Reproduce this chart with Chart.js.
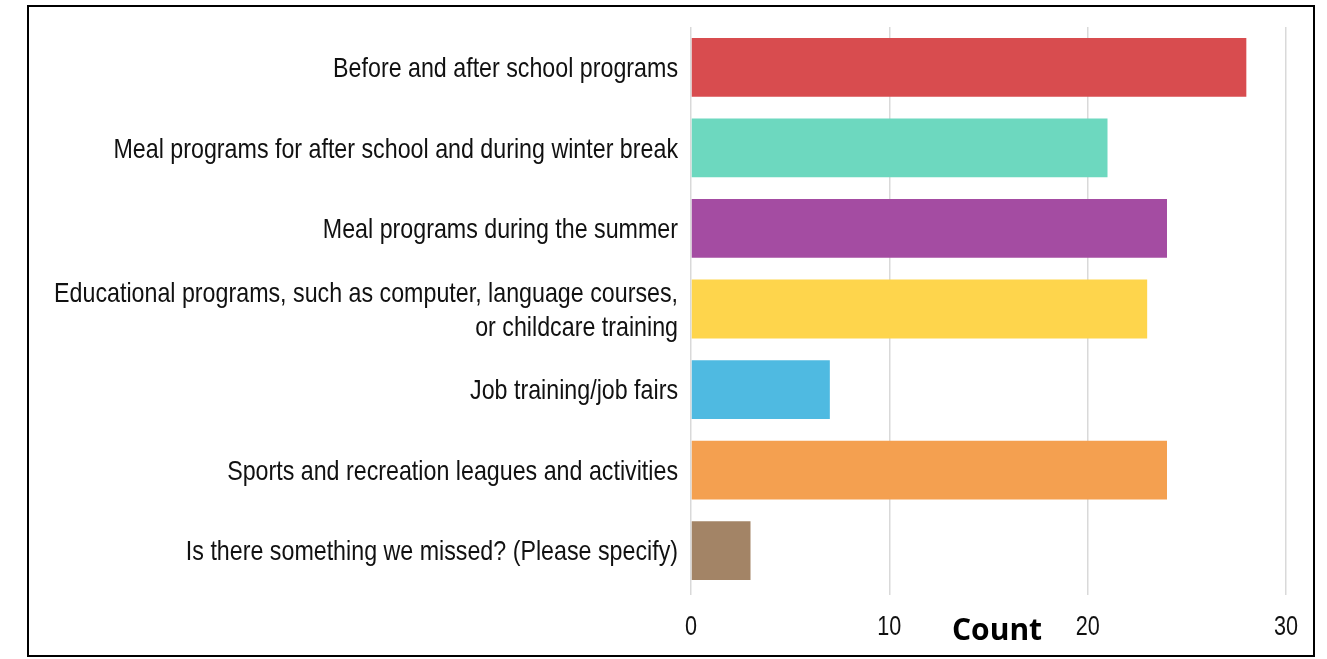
<!DOCTYPE html>
<html lang="en">
<head>
    <meta charset="UTF-8">
    <title>Programs</title>
    <script src="https://cdn.jsdelivr.net/npm/chart.js"></script>
    <style>
        body {
            margin: 0;
            background: #ffffff;
        }

        .frame {
            position: absolute;
            left: 27px;
            top: 5px;
            width: 1284px;
            height: 648px;
            border: 2px solid #000;
        }

        .chart-box {
            position: absolute;
            left: 0;
            top: 0;
            width: 1327px;
            height: 659px;
        }

        .count-label {
            position: absolute;
            left: 952px;
            top: 608px;
            font-family: 'Open Sans', sans-serif;
            font-weight: bold;
            font-size: 30px;
            color: #000;
        }
    </style>
</head>
<body>
    <div class="frame"></div>
    <div class="chart-box">
        <canvas id="programChart" width="1327" height="659"></canvas>
    </div>
    <div class="count-label">Count</div>

    <script>
        const categories = [
            'Before and after school programs',
            'Meal programs for after school and during winter break',
            'Meal programs during the summer',
            ['Educational programs, such as computer, language courses,', 'or childcare training'],
            'Job training/job fairs',
            'Sports and recreation leagues and activities',
            'Is there something we missed? (Please specify)'
        ];
        const counts = [28, 21, 24, 23, 7, 24, 3];
        const barColors = ['#d84c4f', '#6dd8bf', '#a44ca2', '#fed54c', '#4fbae1', '#f4a050', '#a38466'];
        const xTicks = [0, 10, 20, 30];

        // no narrow font installed, so labels are drawn squeezed by hand
        const labelFont = "'Liberation Sans', Arial, sans-serif";

        const narrowLabels = {
            id: 'narrowLabels',
            afterDraw(chart) {
                const c = chart.ctx;
                const xs = chart.scales.x;
                const ys = chart.scales.y;
                c.save();
                c.fillStyle = '#111';
                c.textBaseline = 'middle';

                // category labels
                c.font = '28px ' + labelFont;
                c.textAlign = 'right';
                categories.forEach((label, i) => {
                    const lines = Array.isArray(label) ? label : [label];
                    const y = ys.getPixelForValue(i) + 2;
                    const lh = 34;
                    lines.forEach((line, j) => {
                        const off = (j - (lines.length - 1) / 2) * lh;
                        c.save();
                        c.translate(ys.right - 13, y + off);
                        c.scale(0.83, 1);
                        c.fillText(line, 0, 0);
                        c.restore();
                    });
                });

                // value ticks
                c.font = '27px ' + labelFont;
                c.textAlign = 'center';
                xTicks.forEach(v => {
                    c.save();
                    c.translate(xs.getPixelForValue(v), xs.top + 37);
                    c.scale(0.8, 1);
                    c.fillText(String(v), 0, 0);
                    c.restore();
                });
                c.restore();
            }
        };

        const ctx = document.getElementById('programChart').getContext('2d');
        new Chart(ctx, {
            type: 'bar',
            data: {
                labels: categories,
                datasets: [{
                    data: counts,
                    backgroundColor: barColors,
                    borderWidth: 0,
                    categoryPercentage: 0.73,
                    barPercentage: 1.0
                }]
            },
            options: {
                indexAxis: 'y',
                responsive: false,
                animation: false,
                layout: {
                    padding: { top: 27, right: 41, left: 0, bottom: 0 }
                },
                plugins: {
                    legend: { display: false },
                    tooltip: { enabled: false }
                },
                scales: {
                    x: {
                        min: 0,
                        max: 30,
                        afterBuildTicks: axis => {
                            axis.ticks = xTicks.map(v => ({ value: v }));
                        },
                        afterFit: axis => { axis.height = 68; },
                        border: { display: false },
                        grid: {
                            color: '#d9d9d9',
                            lineWidth: 1.5,
                            drawTicks: true,
                            tickLength: 4
                        },
                        ticks: { display: false }
                    },
                    y: {
                        afterFit: axis => { axis.width = 691; },
                        border: { display: false },
                        grid: { display: false },
                        ticks: { display: false }
                    }
                }
            },
            plugins: [narrowLabels]
        });
    </script>
</body>
</html>
